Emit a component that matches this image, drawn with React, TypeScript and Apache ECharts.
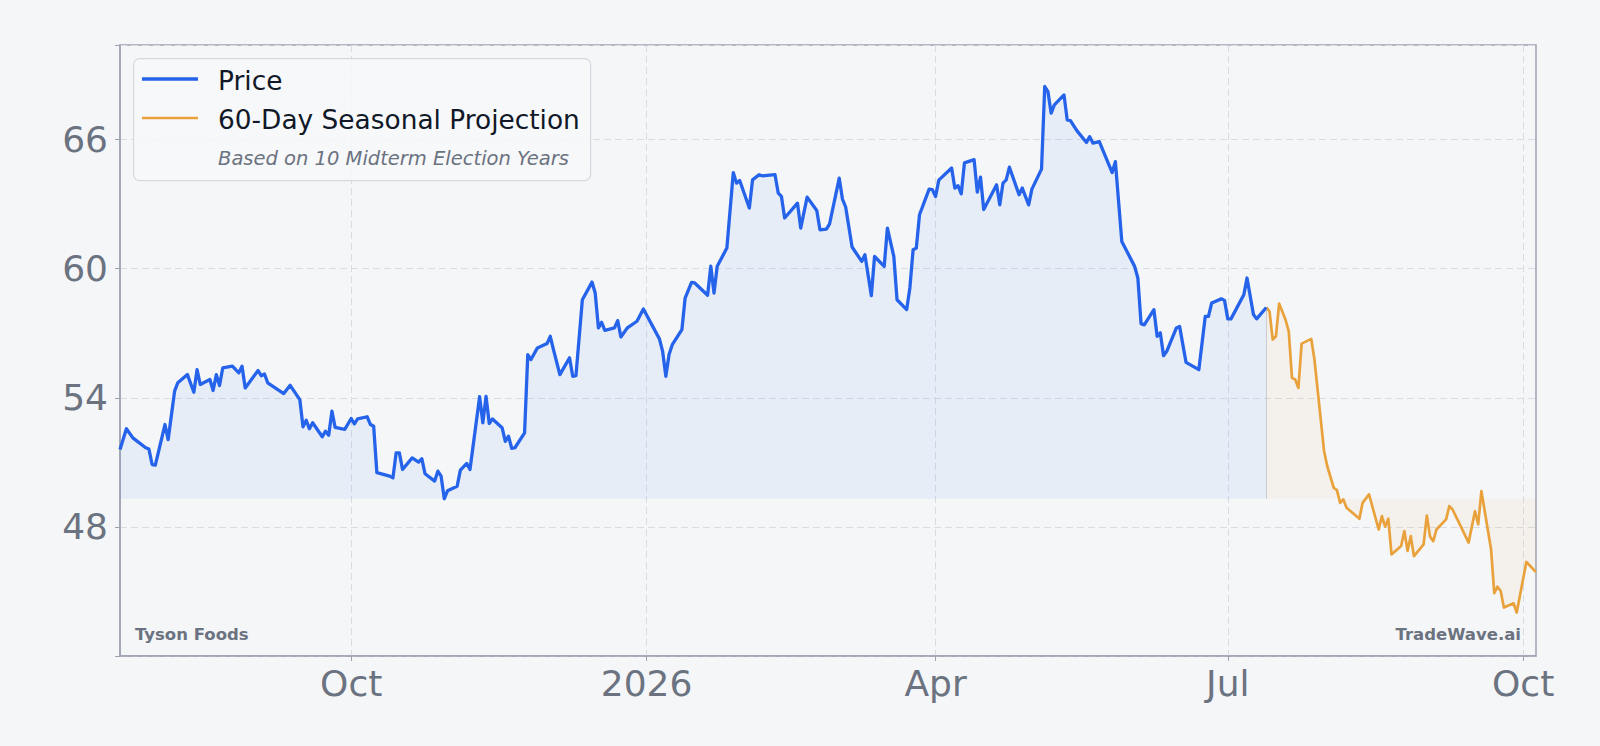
import React, { useEffect, useRef } from 'react';
import * as echarts from 'echarts';

const priceDates = [
  '2025-07-21','2025-07-23','2025-07-25','2025-07-29','2025-07-30','2025-07-31','2025-08-01','2025-08-04','2025-08-05','2025-08-07',
  '2025-08-08','2025-08-11','2025-08-13','2025-08-14','2025-08-15','2025-08-18','2025-08-19','2025-08-20','2025-08-21','2025-08-22',
  '2025-08-25','2025-08-27','2025-08-28','2025-08-29','2025-09-02','2025-09-03','2025-09-04','2025-09-05','2025-09-10','2025-09-12',
  '2025-09-15','2025-09-16','2025-09-17','2025-09-18','2025-09-19','2025-09-22','2025-09-23','2025-09-24','2025-09-25','2025-09-26',
  '2025-09-29','2025-10-01','2025-10-02','2025-10-03','2025-10-06','2025-10-07','2025-10-08','2025-10-09','2025-10-13','2025-10-14',
  '2025-10-15','2025-10-16','2025-10-17','2025-10-20','2025-10-22','2025-10-23','2025-10-24','2025-10-27','2025-10-28','2025-10-29',
  '2025-10-30','2025-10-31','2025-11-03','2025-11-04','2025-11-06','2025-11-07','2025-11-10','2025-11-11','2025-11-12','2025-11-13',
  '2025-11-14','2025-11-17','2025-11-18','2025-11-19','2025-11-20','2025-11-21','2025-11-24','2025-11-25','2025-11-26','2025-11-28',
  '2025-12-01','2025-12-02','2025-12-03','2025-12-05','2025-12-08','2025-12-09','2025-12-10','2025-12-12','2025-12-15','2025-12-16',
  '2025-12-17','2025-12-18','2025-12-19','2025-12-22','2025-12-23','2025-12-24','2025-12-26','2025-12-29','2025-12-31','2026-01-05',
  '2026-01-06','2026-01-07','2026-01-08','2026-01-09','2026-01-12','2026-01-13','2026-01-15','2026-01-16','2026-01-20','2026-01-21',
  '2026-01-22','2026-01-23','2026-01-26','2026-01-28','2026-01-29','2026-01-30','2026-02-02','2026-02-03','2026-02-05','2026-02-06',
  '2026-02-10','2026-02-11','2026-02-12','2026-02-13','2026-02-17','2026-02-18','2026-02-20','2026-02-23','2026-02-24','2026-02-26',
  '2026-02-27','2026-03-02','2026-03-03','2026-03-04','2026-03-06','2026-03-09','2026-03-10','2026-03-12','2026-03-13','2026-03-16',
  '2026-03-17','2026-03-19','2026-03-20','2026-03-23','2026-03-24','2026-03-25','2026-03-26','2026-03-27','2026-03-30','2026-03-31',
  '2026-04-01','2026-04-02','2026-04-06','2026-04-07','2026-04-08','2026-04-09','2026-04-10','2026-04-13','2026-04-14','2026-04-15',
  '2026-04-16','2026-04-20','2026-04-21','2026-04-22','2026-04-23','2026-04-24','2026-04-27','2026-04-28','2026-04-30','2026-05-01',
  '2026-05-04','2026-05-05','2026-05-06','2026-05-07','2026-05-08','2026-05-11','2026-05-12','2026-05-13','2026-05-15','2026-05-18',
  '2026-05-19','2026-05-20','2026-05-22','2026-05-26','2026-05-27','2026-05-29','2026-06-02','2026-06-03','2026-06-04','2026-06-05',
  '2026-06-08','2026-06-09','2026-06-10','2026-06-11','2026-06-12','2026-06-15','2026-06-16','2026-06-18','2026-06-22','2026-06-24',
  '2026-06-25','2026-06-26','2026-06-29','2026-06-30','2026-07-01','2026-07-02','2026-07-06','2026-07-07','2026-07-09','2026-07-10',
  '2026-07-13',
];

const priceValues = [
  51.60, 52.56, 52.14, 51.68, 51.62, 50.90, 50.87, 52.76, 52.06, 54.31,
  54.70, 55.08, 54.26, 55.31, 54.62, 54.85, 54.34, 55.08, 54.57, 55.39,
  55.47, 55.16, 55.47, 54.46, 55.27, 55.03, 55.11, 54.70, 54.20, 54.58,
  53.92, 52.65, 52.96, 52.56, 52.84, 52.19, 52.45, 52.26, 53.38, 52.63,
  52.53, 53.04, 52.79, 53.02, 53.12, 52.76, 52.68, 50.52, 50.36, 50.28,
  51.44, 51.44, 50.67, 51.21, 51.01, 51.17, 50.47, 50.13, 50.59, 50.36,
  49.31, 49.68, 49.89, 50.64, 50.95, 50.67, 54.05, 52.84, 54.07, 52.81,
  53.02, 52.61, 51.98, 52.22, 51.65, 51.68, 52.37, 56.01, 55.78, 56.32,
  56.52, 56.86, 56.24, 55.08, 55.86, 55.00, 55.03, 58.56, 59.38, 58.87,
  57.25, 57.51, 57.14, 57.25, 57.59, 56.83, 57.25, 57.56, 58.13, 56.74,
  56.16, 55.00, 56.01, 56.47, 57.17, 58.64, 59.37, 59.34, 58.77, 60.12,
  58.87, 60.12, 60.96, 64.47, 63.98, 64.10, 62.82, 64.13, 64.37, 64.32,
  64.37, 63.52, 63.36, 62.36, 63.05, 61.89, 63.33, 62.71, 61.81, 61.84,
  62.09, 64.21, 63.24, 62.87, 61.01, 60.34, 60.65, 58.75, 60.57, 60.11,
  61.89, 60.57, 58.56, 58.10, 59.11, 60.88, 60.96, 62.51, 63.70, 63.68,
  63.36, 64.12, 64.68, 63.75, 63.86, 63.48, 64.92, 65.07, 63.56, 64.26,
  62.75, 63.90, 62.97, 63.98, 64.13, 64.72, 63.44, 63.75, 62.97, 63.70,
  64.63, 68.47, 68.23, 67.23, 67.62, 68.08, 66.92, 66.89, 66.42, 65.87,
  66.14, 65.84, 65.91, 64.47, 64.98, 61.27, 60.11, 59.57, 57.45, 57.39,
  58.10, 56.86, 57.02, 55.96, 56.16, 57.25, 57.32, 55.65, 55.31, 57.79,
  57.79, 58.41, 58.60, 58.53, 57.67, 57.67, 58.79, 59.57, 57.87, 57.67,
  58.20,
];

const projDates = [
  '2026-07-13','2026-07-14','2026-07-15','2026-07-16','2026-07-17','2026-07-19','2026-07-20','2026-07-21','2026-07-22','2026-07-23',
  '2026-07-24','2026-07-27','2026-07-28','2026-07-31','2026-08-01','2026-08-03','2026-08-04','2026-08-05','2026-08-06','2026-08-07',
  '2026-08-11','2026-08-12','2026-08-14','2026-08-17','2026-08-18','2026-08-19','2026-08-20','2026-08-21','2026-08-24','2026-08-25',
  '2026-08-26','2026-08-27','2026-08-28','2026-08-31','2026-09-01','2026-09-02','2026-09-03','2026-09-04','2026-09-07','2026-09-08',
  '2026-09-09','2026-09-11','2026-09-14','2026-09-16','2026-09-17','2026-09-18','2026-09-21','2026-09-22','2026-09-23','2026-09-24',
  '2026-09-25','2026-09-28','2026-09-29','2026-10-02','2026-10-05',
];

const projValues = [
  58.20, 58.02, 56.71, 56.86, 58.38, 57.63, 57.09, 54.93, 54.85, 54.46,
  56.52, 56.74, 55.78, 51.52, 50.82, 49.82, 49.71, 49.12, 49.28, 48.89,
  48.38, 49.12, 49.51, 47.88, 48.50, 48.01, 48.38, 46.72, 47.11, 47.81,
  46.88, 47.57, 46.64, 47.19, 48.53, 47.55, 47.34, 47.88, 48.35, 48.97,
  48.81, 48.20, 47.27, 48.73, 48.12, 49.66, 46.96, 44.92, 45.22, 45.02,
  44.25, 44.45, 44.02, 46.37, 45.90,
];

const xTickDates = ['2025-10-01', '2026-01-01', '2026-04-01', '2026-07-01', '2026-10-01'];
const xTickLabels = ['Oct', '2026', 'Apr', 'Jul', 'Oct'];
const yTickLabels = [48, 54, 60, 66];
const xRange = ['2025-07-21', '2026-10-05'];
const yRange = [42, 70.4];

const toTs = (s: string) => {
  const [y, m, d] = s.split('-').map(Number);
  return Date.UTC(y, m - 1, d);
};

const FONT = 'DejaVu Sans';
const BG = '#f5f6f8';
const GRID_LINE = '#d9dde3';
const FRAME = '#9ca3af';
const LABEL = '#6b7280';
const BLUE = '#2563eb';
const ORANGE = '#e9a23b';

export default function App() {
  const ref = useRef<HTMLDivElement>(null);

  useEffect(() => {
    if (!ref.current) return;
    const chart = echarts.init(ref.current, null, { renderer: 'svg' });
    const tickTs = xTickDates.map(toTs);
    const baseline = Math.min(...priceValues);
    const joinTs = toTs(projDates[0]);

    const option: any = {
      animation: false,
      backgroundColor: BG,
      grid: {
        left: 120, right: 64, top: 45, bottom: 90,
        show: true, borderColor: FRAME, borderWidth: 1.5, backgroundColor: 'transparent',
      },
      xAxis: {
        type: 'value',
        min: toTs(xRange[0]),
        max: toTs(xRange[1]),
        axisLine: { show: true, lineStyle: { color: FRAME, width: 1.5 } },
        axisTick: { show: true, length: 5, lineStyle: { color: FRAME }, customValues: tickTs },
        axisLabel: {
          customValues: tickTs,
          fontFamily: FONT, fontSize: 36, color: LABEL, margin: 9,
          formatter: (v: number) => {
            const i = tickTs.indexOf(v);
            return i >= 0 ? xTickLabels[i] : '';
          },
        },
        splitLine: { show: true, lineStyle: { color: GRID_LINE, type: [7, 4], width: 1 } },
      },
      yAxis: {
        type: 'value',
        min: yRange[0],
        max: yRange[1],
        interval: 6,
        axisLine: { show: true, lineStyle: { color: FRAME, width: 1.5 } },
        axisTick: { show: true, length: 5, lineStyle: { color: FRAME } },
        axisLabel: {
          fontFamily: FONT, fontSize: 36, color: LABEL, margin: 12,
          formatter: (v: number) => (yTickLabels.indexOf(v) >= 0 ? String(v) : ''),
        },
        splitLine: { show: true, lineStyle: { color: GRID_LINE, type: [7, 4], width: 1 } },
      },
      series: [
        {
          name: 'Price',
          type: 'line',
          data: priceDates.map((d, i) => [toTs(d), priceValues[i]]),
          showSymbol: false,
          lineStyle: { color: BLUE, width: 3.3, join: 'round' },
          itemStyle: { color: BLUE },
          areaStyle: { color: 'rgba(59,130,246,0.1)', origin: baseline },
          z: 3,
        },
        {
          name: '60-Day Seasonal Projection',
          type: 'line',
          data: projDates.map((d, i) => [toTs(d), projValues[i]]),
          showSymbol: false,
          lineStyle: { color: ORANGE, width: 2.7, join: 'round' },
          itemStyle: { color: ORANGE },
          areaStyle: { color: 'rgba(233,162,59,0.09)', origin: baseline },
          markLine: {
            silent: true,
            symbol: ['none', 'none'],
            label: { show: false },
            lineStyle: { color: 'rgba(140,140,140,0.35)', width: 1, type: 'solid' },
            data: [[{ coord: [joinTs, baseline] }, { coord: [joinTs, projValues[0]] }]],
          },
          z: 2,
        },
      ],
      graphic: [
        {
          type: 'rect', left: 133, top: 58, z: 10,
          shape: { width: 457, height: 122, r: 6 },
          style: { fill: 'rgba(247,248,250,0.85)', stroke: '#d5d9df', lineWidth: 1.2 },
        },
        {
          type: 'line', z: 11,
          shape: { x1: 142, y1: 79, x2: 198, y2: 79 },
          style: { stroke: BLUE, lineWidth: 3.3 },
        },
        {
          type: 'line', z: 11,
          shape: { x1: 142, y1: 118, x2: 198, y2: 118 },
          style: { stroke: ORANGE, lineWidth: 2.7 },
        },
        {
          type: 'text', x: 218, y: 80, z: 11,
          style: { text: 'Price', fontFamily: FONT, fontSize: 26.4, fill: '#111827', verticalAlign: 'middle' },
        },
        {
          type: 'text', x: 218, y: 119, z: 11,
          style: { text: '60-Day Seasonal Projection', fontFamily: FONT, fontSize: 26.4, fill: '#111827', verticalAlign: 'middle' },
        },
        {
          type: 'text', x: 218, y: 158, z: 11,
          style: { text: 'Based on 10 Midterm Election Years', fontFamily: FONT, fontSize: 19.5, fontStyle: 'italic', fill: LABEL, verticalAlign: 'middle' },
        },
        {
          type: 'text', x: 135, y: 634.5, z: 11,
          style: { text: 'Tyson Foods', fontFamily: FONT, fontSize: 16.5, fontWeight: 'bold', fill: LABEL, verticalAlign: 'middle' },
        },
        {
          type: 'text', x: 1521, y: 634.5, z: 11,
          style: { text: 'TradeWave.ai', fontFamily: FONT, fontSize: 16.5, fontWeight: 'bold', fill: LABEL, verticalAlign: 'middle', align: 'right' },
        },
      ],
    };

    chart.setOption(option);
    return () => chart.dispose();
  }, []);

  return (
    <div
      ref={ref}
      style={{ position: 'fixed', left: 0, top: 0, width: 1600, height: 746, background: BG }}
    />
  );
}
